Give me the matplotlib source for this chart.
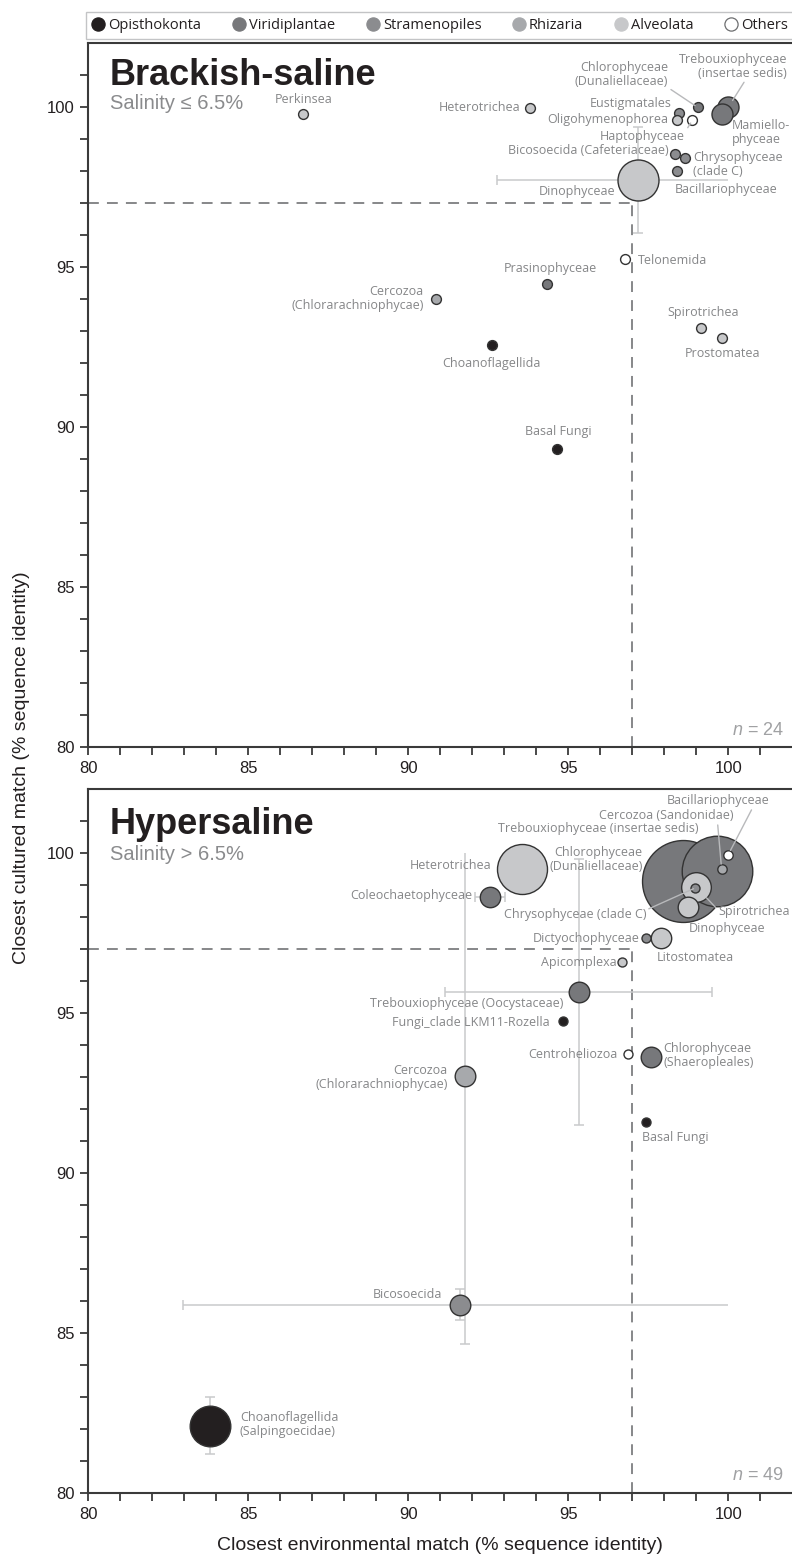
import matplotlib
matplotlib.use("Agg")
import matplotlib.pyplot as plt
from matplotlib.lines import Line2D
import numpy as np

plt.rcParams['font.family'] = ['Liberation Sans', 'DejaVu Sans']
plt.rcParams['mathtext.fontset'] = 'custom'
plt.rcParams['mathtext.it'] = 'Liberation Sans:italic'
plt.rcParams['mathtext.rm'] = 'Liberation Sans'

# ---------------- data ----------------
groups = ['Opisthokonta', 'Viridiplantae', 'Stramenopiles', 'Rhizaria', 'Alveolata', 'Others']
group_colors = ['#231f20', '#77787b', '#8b8c8f', '#a7a9ac', '#c7c8ca', '#ffffff']

# Brackish-saline (salinity <= 6.5%)
top_names = ['Perkinsea', 'Heterotrichea', 'Eustigmatales', 'Chlorophyceae\n(Dunaliellaceae)',
             'Trebouxiophyceae\n(insertae sedis)', 'Mamiello-\nphyceae', 'Oligohymenophorea',
             'Haptophyceae', 'Bicosoecida (Cafeteriaceae)', 'Chrysophyceae\n(clade C)',
             'Bacillariophyceae', 'Dinophyceae', 'Telonemida', 'Prasinophyceae',
             'Cercozoa\n(Chlorarachniophycae)', 'Choanoflagellida', 'Spirotrichea',
             'Prostomatea', 'Basal Fungi']
top_env = [86.72, 93.80, 98.47, 99.04, 100.0, 99.79, 98.41, 98.88, 98.34, 98.65,
           98.39, 97.17, 96.78, 94.33, 90.87, 92.61, 99.15, 99.80, 94.65]
top_cult = [99.78, 99.99, 99.81, 100.0, 100.0, 99.78, 99.60, 99.60, 98.54, 98.42,
            98.02, 97.73, 95.25, 94.48, 94.01, 92.56, 93.10, 92.78, 89.31]
top_group = [4, 4, 2, 1, 1, 1, 4, 5, 2, 2, 2, 4, 5, 1, 3, 0, 4, 4, 0]
top_size = [50, 50, 50, 50, 229, 229, 50, 50, 50, 50, 50, 871, 50, 50, 50, 50, 50, 50, 50]
top_env_err = [0, 0, 0, 0, 0, 0, 0, 0, 0, 0, 0, 4.41, 0, 0, 0, 0, 0, 0, 0]
top_cult_err = [0, 0, 0, 0, 0, 0, 0, 0, 0, 0, 0, 1.65, 0, 0, 0, 0, 0, 0, 0]
top_n = 24

# Hypersaline (salinity > 6.5%)
bot_names = ['Heterotrichea', 'Trebouxiophyceae (insertae sedis)', 'Chlorophyceae\n(Dunaliellaceae)',
             'Cercozoa (Sandonidae)', 'Bacillariophyceae', 'Spirotrichea', 'Chrysophyceae (clade C)',
             'Dinophyceae', 'Coleochaetophyceae', 'Dictyochophyceae', 'Litostomatea', 'Apicomplexa',
             'Trebouxiophyceae (Oocystaceae)', 'Fungi_clade LKM11-Rozella', 'Centroheliozoa',
             'Chlorophyceae\n(Shaeropleales)', 'Cercozoa\n(Chlorarachniophycae)', 'Basal Fungi',
             'Bicosoecida', 'Choanoflagellida\n(Salpingoecidae)']
bot_env = [93.56, 99.65, 98.59, 99.79, 100.0, 99.00, 98.97, 98.75, 92.55, 97.44,
           97.90, 96.69, 95.32, 94.84, 96.86, 97.58, 91.78, 97.43, 91.62, 83.80]
bot_cult = [99.49, 99.42, 99.13, 99.50, 99.94, 98.93, 98.90, 98.30, 98.61, 97.34,
            97.35, 96.57, 95.64, 94.75, 93.70, 93.62, 93.01, 91.57, 85.88, 82.10]
bot_group = [4, 1, 1, 3, 5, 4, 2, 4, 1, 2, 4, 4, 1, 0, 5, 1, 3, 0, 2, 0]
bot_size = [1296, 2580, 3480, 46, 46, 456, 42, 221, 216, 42, 216, 42, 220, 42, 42, 220, 220, 42, 220, 855]
bot_env_err = [0, 0, 0, 0, 0, 0, 0, 0, 0.46, 0, 0, 0, 4.18, 0, 0, 0, 0, 0, 8.67, 0]
bot_cult_err = [0, 0, 0, 0, 0, 0, 0, 0, 0, 0, 0, 0, 4.15, 0, 0, 0, 8.37, 0, 0.48, 0.89]
bot_n = 49

x_ticks = [80, 85, 90, 95, 100]
y_ticks = [80, 85, 90, 95, 100]
threshold = 97

# ---------------- label styling (pixel offsets from point: dx, dy-up, ha) ----------------
top_lab = [(0, 15, 'center'), (-10, 0, 'right'), (-7.6, 10, 'right'), (-29.4, 33.1, 'right'),
           (58.7, 41.3, 'right'), (10, -17.7, 'left'), (-9, 0.7, 'right'), (-50, -16, 'center'),
           (-7, 3.3, 'right'), (8.3, -7, 'left'), (-1.7, -18.6, 'left'), (-22.7, -11.7, 'right'),
           (12.4, -0.7, 'left'), (3.7, 15.7, 'center'), (-12.7, 0, 'right'), (0, -18, 'center'),
           (1.7, 15.3, 'center'), (0.7, -15, 'center'), (1.3, 17.6, 'center')]
top_leaders = {3: ((1.0, 0.0), 3), 4: ((0.62, 0.0), 8), 7: ((1.0, 0.8), 3.5)}

bot_lab = [(-31, 3.3, 'right'), (-119, 43, 'center'), (-40.8, 21.2, 'right'), (-55.2, 53, 'center'),
           (-10.3, 54, 'center'), (22.3, -25, 'left'), (-49.3, -26.7, 'right'), (0.4, -21.7, 'left'),
           (-17.3, 1.6, 'right'), (-6.3, -0.7, 'right'), (34, -20.3, 'center'), (-5.6, 0, 'right'),
           (-15.4, -11.7, 'right'), (-14, -1.6, 'right'), (-10.4, 0, 'right'), (12.3, 1.2, 'left'),
           (-17.6, -1.3, 'right'), (-4.3, -15, 'left'), (-17.7, 10, 'right'), (30, 0.7, 'left')]
bot_leaders = {3: ((0.88, 0.0), 4.7), 4: ((0.84, 0.0), 4.7), 5: ((0.0, 0.6), 15),
               6: ((1.0, 0.85), 2)}

PX = 0.72  # points per pixel at dpi 100
ERR = '#c9cacc'
LEAD = '#b8b9bb'
LABEL = '#858688'
EDGE = '#333333'
AXC = '#3a3a3a'
LABEL_FONT = ['Open Sans', 'DejaVu Sans']

W, H = 792, 1559
fig = plt.figure(figsize=(W / 100, H / 100), dpi=100)


def px_axes(left, top, right, bottom):
    return fig.add_axes([left / W, 1 - bottom / H, (right - left) / W, (bottom - top) / H])


ax_top = px_axes(88.3, 43.3, 792.3, 747.3)
ax_bot = px_axes(88.3, 788.7, 792.3, 1492.7)


def draw_panel(ax, names, xs, ys, grp, sizes, xerr, yerr, lab, leaders, title, subtitle,
               title_y, sub_y, n):
    ax.set_xlim(80, 102)
    ax.set_ylim(80, 102)
    # threshold lines
    ax.plot([80, threshold], [threshold, threshold], color='#7d7e80', lw=1.3,
            dashes=(6, 4.5), zorder=1)
    ax.plot([threshold, threshold], [80, threshold], color='#7d7e80', lw=1.3,
            dashes=(6, 4.5), zorder=1)
    # error bars (clipped at 100 % identity, no cap where clipped)
    for x, y, ex, ey in zip(xs, ys, xerr, yerr):
        if ex:
            x0, x1 = x - ex, min(x + ex, 100)
            ax.plot([x0, x1], [y, y], color=ERR, lw=1.1, zorder=2, solid_capstyle='butt')
            ax.plot([x0], [y], marker='|', ms=7, mew=1.1, color=ERR, zorder=2, ls='')
            if x + ex <= 100:
                ax.plot([x1], [y], marker='|', ms=7, mew=1.1, color=ERR, zorder=2, ls='')
        if ey:
            y0, y1 = y - ey, min(y + ey, 100)
            ax.plot([x, x], [y0, y1], color=ERR, lw=1.1, zorder=2, solid_capstyle='butt')
            ax.plot([x], [y0], marker='_', ms=7, mew=1.1, color=ERR, zorder=2, ls='')
            if y + ey <= 100:
                ax.plot([x], [y1], marker='_', ms=7, mew=1.1, color=ERR, zorder=2, ls='')
    # bubbles, largest first
    order = np.argsort(-np.array(sizes), kind='stable')
    for i in order:
        ax.scatter([xs[i]], [ys[i]], s=sizes[i], c=group_colors[grp[i]], edgecolors=EDGE,
                   linewidths=1.0, zorder=3, clip_on=False)
    # labels
    for i, name in enumerate(names):
        dx, dy, ha = lab[i]
        kw = {}
        if i in leaders:
            rel, shr = leaders[i]
            kw['arrowprops'] = dict(arrowstyle='-', color=LEAD, lw=1.0, relpos=rel,
                                    shrinkA=0, shrinkB=shr * PX)
        ax.annotate(name, (xs[i], ys[i]), xytext=(dx * PX, dy * PX), textcoords='offset points',
                    ha=ha, va='center', multialignment=ha, fontsize=9, color=LABEL,
                    family=LABEL_FONT, zorder=5, linespacing=1.1, **kw)
    # titles
    ax.text(0.031, title_y, title, transform=ax.transAxes, fontsize=26, fontweight='bold',
            color='#231f20', va='baseline', ha='left')
    ax.text(0.031, sub_y, subtitle, transform=ax.transAxes, fontsize=14.5, color='#8a8b8d',
            va='baseline', ha='left', family=['Liberation Sans', 'DejaVu Sans'])
    ax.text(0.988, 0.012, r'$n$ = %d' % n, transform=ax.transAxes, fontsize=13,
            color='#a0a1a3', ha='right', va='bottom')
    # axes styling
    ax.set_xticks(x_ticks)
    ax.set_yticks(y_ticks)
    ax.set_xticks(np.arange(80, 102, 1), minor=True)
    ax.set_yticks(np.arange(80, 102, 1), minor=True)
    ax.tick_params(which='both', direction='out', length=6, width=1.3, color=AXC,
                   labelsize=12, labelcolor='#231f20')
    ax.tick_params(which='major', pad=4)
    for s in ['left', 'bottom', 'top']:
        ax.spines[s].set_linewidth(1.5)
        ax.spines[s].set_color(AXC)
    ax.spines['right'].set_visible(False)
    ax.tick_params(top=False, right=False, which='both')


draw_panel(ax_top, top_names, top_env, top_cult, top_group, top_size, top_env_err, top_cult_err,
           top_lab, top_leaders, 'Brackish-saline', 'Salinity \u2264 6.5%', 0.9408, 0.9067, top_n)
draw_panel(ax_bot, bot_names, bot_env, bot_cult, bot_group, bot_size, bot_env_err, bot_cult_err,
           bot_lab, bot_leaders, 'Hypersaline', 'Salinity > 6.5%', 0.9357, 0.8987, bot_n)

# axis titles
fig.text(440 / W, 1 - 1546 / H, 'Closest environmental match (% sequence identity)',
         ha='center', va='center', fontsize=14, color='#231f20')
fig.text(22 / W, 1 - 768 / H, 'Closest cultured match (% sequence identity)',
         ha='center', va='center', rotation=90, fontsize=14, color='#231f20')

# legend
handles = []
for g, c in zip(groups, group_colors):
    handles.append(Line2D([], [], marker='o', ls='', markersize=9.5, markerfacecolor=c,
                          markeredgecolor=('#6d6e70' if c == '#ffffff' else c),
                          markeredgewidth=0.9, label=g))
leg = fig.legend(handles=handles, loc='lower left', ncol=6, mode='expand',
                 bbox_to_anchor=(86 / W, 1 - 39 / H, (794 - 86) / W, 32 / H),
                 borderaxespad=0, frameon=True, fancybox=False, handletextpad=0.25,
                 columnspacing=0.5, handlelength=0.9, borderpad=0.4,
                 prop={'family': LABEL_FONT, 'size': 10.5})
leg.get_frame().set_edgecolor('#b5b6b8')
leg.get_frame().set_linewidth(1.0)
for t in leg.get_texts():
    t.set_color('#231f20')

fig.savefig('out.png', dpi=100)
